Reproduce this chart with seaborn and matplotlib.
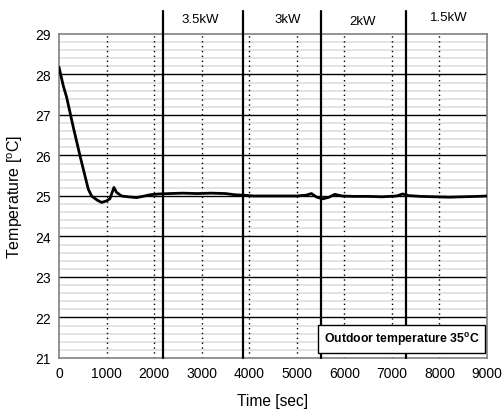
import matplotlib
matplotlib.use("Agg")
import matplotlib.pyplot as plt
import seaborn as sns
import pandas as pd
import numpy as np

# ---- data ----
time_s = [0, 90, 160, 300, 440, 615, 685, 800, 895, 1000, 1070, 1155, 1210, 1315,
          1450, 1630, 1800, 1910, 2100, 2330, 2600, 2900, 3200, 3500, 3700, 3866,
          4100, 4400, 4700, 5000, 5200, 5308, 5420, 5546, 5680, 5798, 5950, 6200,
          6500, 6800, 7100, 7227, 7350, 7600, 7900, 8200, 8500, 8800, 9000]
temp_c = [28.18, 27.72, 27.44, 26.70, 26.00, 25.17, 25.00, 24.90, 24.84, 24.88,
          24.93, 25.21, 25.09, 25.00, 24.98, 24.96, 25.00, 25.03, 25.05, 25.06,
          25.07, 25.06, 25.07, 25.06, 25.03, 25.02, 25.00, 25.00, 25.00, 25.00,
          25.02, 25.06, 24.97, 24.93, 24.97, 25.04, 25.00, 24.99, 24.99, 24.98,
          25.00, 25.05, 25.01, 24.99, 24.98, 24.97, 24.98, 24.99, 25.00]
phase_bounds = [2185, 3866, 5504, 7303]
phase_labels = ["3.5kW", "3kW", "2kW", "1.5kW"]
phase_label_x = [2960, 4810, 6390, 8190]
phase_label_y = [29.37, 29.37, 29.33, 29.42]
x_ticks = [0, 1000, 2000, 3000, 4000, 5000, 6000, 7000, 8000, 9000]
y_ticks = [21, 22, 23, 24, 25, 26, 27, 28, 29]
note_text = r"Outdoor temperature 35$^{\mathbf{o}}$C"

df = pd.DataFrame({"Time": time_s, "Temp": temp_c})

sns.set_style("white")
plt.rcParams["font.family"] = ["Liberation Sans", "DejaVu Sans"]
plt.rcParams["mathtext.fontset"] = "custom"
plt.rcParams["mathtext.rm"] = "Liberation Sans"
plt.rcParams["mathtext.bf"] = "Liberation Sans:bold"
plt.rcParams["text.color"] = "black"
plt.rcParams["axes.labelcolor"] = "black"
plt.rcParams["xtick.color"] = "black"
plt.rcParams["ytick.color"] = "black"

fig = plt.figure(figsize=(5.03, 4.14), dpi=100)
ax = fig.add_axes([0.1173, 0.1329, 0.8509, 0.7826])

# minor horizontal grid
for v in np.arange(21.2, 29.0, 0.2):
    if abs(v - round(v)) > 1e-6:
        ax.axhline(v, color="#e0e0e0", lw=1.3, zorder=0)
for v in y_ticks[1:-1]:
    ax.axhline(v, color="black", lw=1.0, zorder=1)
for v in x_ticks[1:-1]:
    ax.axvline(v, color="black", lw=1.0, ls=(0, (1, 2.5)), zorder=1)

sns.lineplot(data=df, x="Time", y="Temp", color="black", lw=2.0, ax=ax, zorder=3)

for b in phase_bounds:
    ax.axvline(b, ymin=0, ymax=1.071, color="black", lw=1.6, clip_on=False, zorder=4)
for lab, lx, ly in zip(phase_labels, phase_label_x, phase_label_y):
    ax.text(lx, ly, lab, ha="center", va="center", fontsize=9.5)

ax.text(7200, 21.47, note_text, ha="center", va="center", fontsize=8.8,
        fontweight="bold", zorder=6,
        bbox=dict(boxstyle="square,pad=0.45", fc="white", ec="black", lw=1.0))

ax.set_xlim(0, 9000)
ax.set_ylim(21, 29)
ax.set_xticks(x_ticks)
ax.set_yticks(y_ticks)
ax.tick_params(axis="both", labelsize=10, direction="in", length=3, width=0.8,
               colors="black", pad=6)
ax.set_xlabel("Time [sec]", fontsize=11.2, labelpad=9)
ax.set_ylabel(r"Temperature [$^{\rm o}$C]", fontsize=11.5, labelpad=7)
for s in ax.spines.values():
    s.set_color("#808080")
    s.set_linewidth(1.2)
    s.set_visible(True)

fig.savefig("out.png", dpi=100)
